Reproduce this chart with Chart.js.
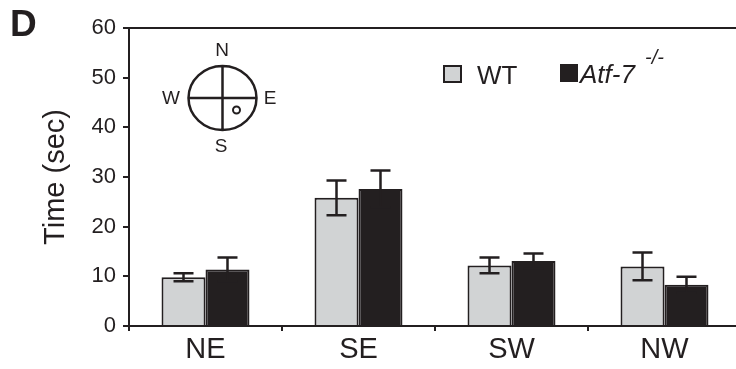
<!DOCTYPE html>
<html>
<head>
<meta charset="utf-8">
<script src="https://cdn.jsdelivr.net/npm/chart.js@4.4.1/dist/chart.umd.min.js"></script>
<style>
  html, body { margin: 0; padding: 0; background: #fff; overflow: hidden; }
  canvas { display: block; }
</style>
</head>
<body>
<canvas id="myChart" width="741" height="369"></canvas>
<script>
const categories = ['NE', 'SE', 'SW', 'NW'];
const wtMeans = [9.8, 25.8, 12.2, 12.0];
const wtErrors = [0.8, 3.5, 1.6, 2.8];
const koMeans = [11.4, 27.6, 13.1, 8.3];
const koErrors = [2.4, 3.7, 1.5, 1.6];
const yMax = 60;
const yStep = 10;

const ink = '#231f20';
const grey = '#d1d3d4';
const font = '"Liberation Sans", Arial, sans-serif';

// whiskers with caps, one per bar
const errorBars = {
  id: 'errorBars',
  afterDatasetsDraw(chart) {
    const ctx = chart.ctx;
    const y = chart.scales.y;
    ctx.save();
    ctx.strokeStyle = ink;
    ctx.lineWidth = 2.5;
    chart.data.datasets.forEach((ds, i) => {
      chart.getDatasetMeta(i).data.forEach((bar, j) => {
        const top = y.getPixelForValue(ds.data[j] + ds.errors[j]);
        const bottom = y.getPixelForValue(ds.data[j] - ds.errors[j]);
        ctx.beginPath();
        ctx.moveTo(bar.x, top);
        ctx.lineTo(bar.x, bottom);
        ctx.moveTo(bar.x - 10, top);
        ctx.lineTo(bar.x + 10, top);
        ctx.moveTo(bar.x - 10, bottom);
        ctx.lineTo(bar.x + 10, bottom);
        ctx.stroke();
      });
    });
    ctx.restore();
  }
};

// panel letter, top frame line, compass and legend
const decorations = {
  id: 'decorations',
  afterDraw(chart) {
    const ctx = chart.ctx;
    const a = chart.chartArea;
    ctx.save();
    ctx.strokeStyle = ink;
    ctx.fillStyle = ink;

    ctx.lineWidth = 2;
    ctx.beginPath();
    ctx.moveTo(a.left, a.top);
    ctx.lineTo(a.right, a.top);
    ctx.stroke();

    ctx.font = 'bold 37px ' + font;
    ctx.textBaseline = 'alphabetic';
    ctx.textAlign = 'left';
    ctx.fillText('D', 10, 36);

    // compass
    const cx = 222.5, cy = 98;
    ctx.lineWidth = 2.5;
    ctx.beginPath();
    ctx.ellipse(cx, cy, 34, 32, 0, 0, Math.PI * 2);
    ctx.moveTo(cx - 34, cy);
    ctx.lineTo(cx + 34, cy);
    ctx.moveTo(cx, cy - 32);
    ctx.lineTo(cx, cy + 32);
    ctx.stroke();
    ctx.lineWidth = 2;
    ctx.beginPath();
    ctx.arc(236.5, 110, 3.5, 0, Math.PI * 2);
    ctx.stroke();

    ctx.font = '19px ' + font;
    ctx.textAlign = 'center';
    ctx.textBaseline = 'middle';
    ctx.fillText('N', 222, 51);
    ctx.fillText('S', 221, 147);
    ctx.fillText('W', 171, 99);
    ctx.fillText('E', 270, 99);

    // legend
    ctx.lineWidth = 2;
    ctx.fillStyle = grey;
    ctx.fillRect(444, 66, 17, 16);
    ctx.strokeRect(444, 66, 17, 16);
    ctx.fillStyle = ink;
    ctx.fillRect(560, 64, 18, 18);

    ctx.textAlign = 'left';
    ctx.textBaseline = 'alphabetic';
    ctx.font = '26px ' + font;
    ctx.fillText('WT', 477, 84);
    ctx.font = 'italic 26px ' + font;
    ctx.fillText('Atf-7', 580, 83);
    ctx.font = 'italic 20px ' + font;
    ctx.fillText('-/-', 645, 64);
    ctx.restore();
  }
};

const data = {
  labels: categories,
  datasets: [{
    label: 'WT',
    data: wtMeans,
    errors: wtErrors,
    backgroundColor: grey,
    borderColor: ink,
    borderWidth: 2
  }, {
    label: 'Atf-7 -/-',
    data: koMeans,
    errors: koErrors,
    backgroundColor: ink,
    borderColor: ink,
    borderWidth: 2
  }]
};

const config = {
  type: 'bar',
  data: data,
  options: {
    responsive: false,
    animation: false,
    devicePixelRatio: 1,
    layout: { padding: { top: 28, left: 0, right: 0, bottom: 0 } },
    datasets: {
      bar: { barPercentage: 1, categoryPercentage: 0.575 }
    },
    plugins: {
      legend: { display: false },
      tooltip: { enabled: false }
    },
    scales: {
      x: {
        afterFit(scale) { scale.height = 43; },
        grid: { drawOnChartArea: false, offset: true, tickLength: 5, color: ink, lineWidth: 2 },
        border: { color: ink, width: 2 },
        ticks: { color: ink, padding: 2, font: { family: font, size: 29 } }
      },
      y: {
        min: 0,
        max: yMax,
        afterFit(scale) { scale.width = 129; },
        grid: { drawOnChartArea: false, tickLength: 6, color: ink, lineWidth: 2 },
        border: { color: ink, width: 2 },
        ticks: { stepSize: yStep, color: ink, padding: 7, font: { family: font, size: 22 } },
        title: {
          display: true,
          text: 'Time (sec)',
          color: ink,
          padding: { top: 39, bottom: 0 },
          font: { family: font, size: 29 }
        }
      }
    }
  },
  plugins: [errorBars, decorations]
};

const ctx = document.getElementById('myChart');
const myChart = new Chart(ctx, config);
</script>
</body>
</html>
